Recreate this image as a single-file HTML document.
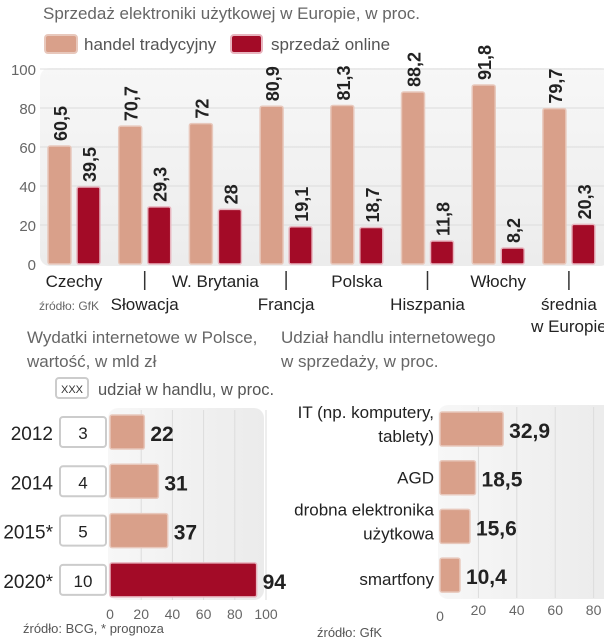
<!DOCTYPE html>
<html><head><meta charset="utf-8">
<style>
html,body{margin:0;padding:0;background:#fff;}
body{width:604px;height:640px;overflow:hidden;position:relative;font-family:"Liberation Sans Narrow","Liberation Sans",sans-serif;}
svg{position:absolute;left:0;top:0;}
text{font-family:"Liberation Sans Narrow","Liberation Sans",sans-serif;}
</style></head>
<body>
<svg width="604" height="640" viewBox="0 0 604 640">
<defs>
<linearGradient id="bg" x1="0" y1="0" x2="0" y2="1"><stop offset="0" stop-color="#f7f7f7"/><stop offset="1" stop-color="#ececec"/></linearGradient>
<linearGradient id="bgh" x1="0" y1="0" x2="1" y2="0"><stop offset="0" stop-color="#f7f7f7"/><stop offset="1" stop-color="#ebebeb"/></linearGradient>
</defs>
<g id="top"></g>
<g id="bl"></g>
<g id="br"></g>
</svg>
<script>
const topCats=[["Czechy"],["Słowacja"],["W. Brytania"],["Francja"],["Polska"],["Hiszpania"],["Włochy"],["średnia","w Europie"]];
const tradVals=[60.5,70.7,72,80.9,81.3,88.2,91.8,79.7];
const onlineVals=[39.5,29.3,28,19.1,18.7,11.8,8.2,20.3];
const topTicks=[0,20,40,60,80,100];
const years=["2012","2014","2015*","2020*"];
const spendVals=[22,31,37,94];
const shareVals=[3,4,5,10];
const blTicks=[0,20,40,60,80,100];
const segCats=[["IT (np. komputery,","tablety)"],["AGD"],["drobna elektronika","użytkowa"],["smartfony"]];
const segVals=[32.9,18.5,15.6,10.4];
const brTicks=[0,20,40,60,80];
const fmt=v=>String(v).replace('.',',');
const NS="http://www.w3.org/2000/svg";
function mk(p,t,a,txt){const e=document.createElementNS(NS,t);for(const k in a)e.setAttribute(k,a[k]);if(txt!==undefined)e.textContent=txt;p.appendChild(e);return e;}
const TRAD="#d9a08a",ONL="#a30b27",TS="#e8c8bc",OS="#e8b5bf";

// TOP
const T=document.getElementById('top');
const ty=v=>264-v*1.95, gx=i=>48+i*70.7;
let e=mk(T,'text',{x:43,y:19,'font-size':17,fill:'#666'},'Sprzedaż elektroniki użytkowej w Europie, w proc.');

e=mk(T,'rect',{x:45,y:35,width:32,height:18,rx:3,fill:TRAD,stroke:TS,'stroke-width':2});

e=mk(T,'text',{x:84,y:50,'font-size':17,fill:'#555'},'handel tradycyjny');

e=mk(T,'rect',{x:231,y:35,width:31,height:18,rx:3,fill:ONL,stroke:OS,'stroke-width':2});

e=mk(T,'text',{x:271,y:50,'font-size':17,fill:'#555'},'sprzedaż online');

e=mk(T,'rect',{x:40,y:68,width:570,height:198,rx:10,fill:'url(#bg)'});

topTicks.forEach(t=>{
 if(t>0){e=mk(T,'line',{x1:40,x2:604,y1:ty(t),y2:ty(t),stroke:'#dcdcdc','stroke-width':1});
 }
 e=mk(T,'text',{x:36,y:ty(t)+6,'font-size':15,fill:'#666','text-anchor':'end'},t);
 
});
tradVals.forEach((v,i)=>{
 const x=gx(i);
 e=mk(T,'rect',{x:x,y:ty(v),width:23,height:264-ty(v),rx:2,fill:TRAD,stroke:TS,'stroke-width':1.5});
 
 e=mk(T,'text',{transform:`translate(${x+19},${ty(v)-5}) rotate(-90)`,'font-size':18,'font-weight':'bold',fill:'#222'},fmt(v));
 
 const o=onlineVals[i];
 e=mk(T,'rect',{x:x+29,y:ty(o),width:23,height:264-ty(o),rx:2,fill:ONL,stroke:OS,'stroke-width':1.5});
 
 e=mk(T,'text',{transform:`translate(${x+48},${ty(o)-5}) rotate(-90)`,'font-size':18,'font-weight':'bold',fill:'#222'},fmt(o));
 
 const cx=x+26,row=i%2;
 topCats[i].forEach((s,j)=>{
  e=mk(T,'text',{x:cx,y:(row?310:287)+j*22,'font-size':17,fill:'#222','text-anchor':'middle'},s);
  
 });
 if(row){e=mk(T,'line',{x1:cx,x2:cx,y1:271,y2:290,stroke:'#333','stroke-width':1.5});
 }
});
e=mk(T,'text',{x:39,y:310,'font-size':12,fill:'#666'},'źródło: GfK');


// BOTTOM LEFT
const L=document.getElementById('bl');
const lx=v=>110+v*1.56, ly=i=>415+i*49.3;
e=mk(L,'text',{x:27,y:343,'font-size':17,fill:'#666'},'Wydatki internetowe w Polsce,');

e=mk(L,'text',{x:27,y:367,'font-size':17,fill:'#666'},'wartość, w mld zł');

e=mk(L,'rect',{x:56,y:378,width:32,height:20,rx:3,fill:'#fff',stroke:'#ccc','stroke-width':2});

e=mk(L,'text',{x:72,y:393,'font-size':11,fill:'#333','text-anchor':'middle'},'XXX');

e=mk(L,'text',{x:98,y:395,'font-size':16.5,fill:'#555'},'udział w handlu, w proc.');

e=mk(L,'rect',{x:108,y:408,width:156,height:192,rx:10,fill:'url(#bgh)'});

blTicks.forEach(t=>{
 if(t>0){e=mk(L,'line',{x1:lx(t),x2:lx(t),y1:410,y2:600,stroke:'#dcdcdc'});
 }
 e=mk(L,'text',{x:lx(t),y:619,'font-size':14,fill:'#666','text-anchor':'middle'},t);
 
});
spendVals.forEach((v,i)=>{
 const y=ly(i);
 e=mk(L,'text',{x:53,y:y+25,'font-size':19,fill:'#222','text-anchor':'end'},years[i]);
 
 e=mk(L,'rect',{x:60,y:y+2,width:46,height:30,rx:3,fill:'#fff',stroke:'#ccc','stroke-width':2});
 
 e=mk(L,'text',{x:83,y:y+24,'font-size':17,fill:'#222','text-anchor':'middle'},shareVals[i]);
 
 const last=i===spendVals.length-1;
 e=mk(L,'rect',{x:110,y:y,width:lx(v)-110,height:34,rx:2,fill:last?ONL:TRAD,stroke:last?OS:TS,'stroke-width':1.5});
 
 e=mk(L,'text',{x:lx(v)+6,y:y+26,'font-size':21,'font-weight':'bold',fill:'#222'},fmt(v));
 
});
e=mk(L,'text',{x:23,y:633,'font-size':13,fill:'#555'},'źródło: BCG, * prognoza');


// BOTTOM RIGHT
const R=document.getElementById('br');
const rx=v=>440+v*1.92, ry=i=>412+i*48.7;
e=mk(R,'text',{x:281,y:343,'font-size':17,fill:'#666'},'Udział handlu internetowego');

e=mk(R,'text',{x:281,y:367,'font-size':17,fill:'#666'},'w sprzedaży, w proc.');

e=mk(R,'rect',{x:438,y:405,width:176,height:194,rx:10,fill:'url(#bgh)'});

brTicks.forEach(t=>{
 if(t>0){e=mk(R,'line',{x1:rx(t),x2:rx(t),y1:407,y2:598,stroke:'#dcdcdc'});
 }
 e=mk(R,'text',{x:rx(t),y:t===0?621:615,'font-size':14,fill:'#666','text-anchor':'middle'},t);
 
});
segVals.forEach((v,i)=>{
 const y=ry(i);
 e=mk(R,'rect',{x:440,y:y,width:rx(v)-440,height:34,rx:2,fill:TRAD,stroke:TS,'stroke-width':1.5});
 
 e=mk(R,'text',{x:rx(v)+6,y:y+26,'font-size':21,'font-weight':'bold',fill:'#222'},fmt(v));
 
 const ls=segCats[i];
 ls.forEach((s,j)=>{
  const yy=ls.length===1?y+(i===3?27:23):y+6+j*24;
  e=mk(R,'text',{x:434,y:yy,'font-size':17,fill:'#222','text-anchor':'end'},s);
  
 });
});
e=mk(R,'text',{x:317,y:637,'font-size':13,fill:'#555'},'źródło: GfK');

</script>
</body></html>
